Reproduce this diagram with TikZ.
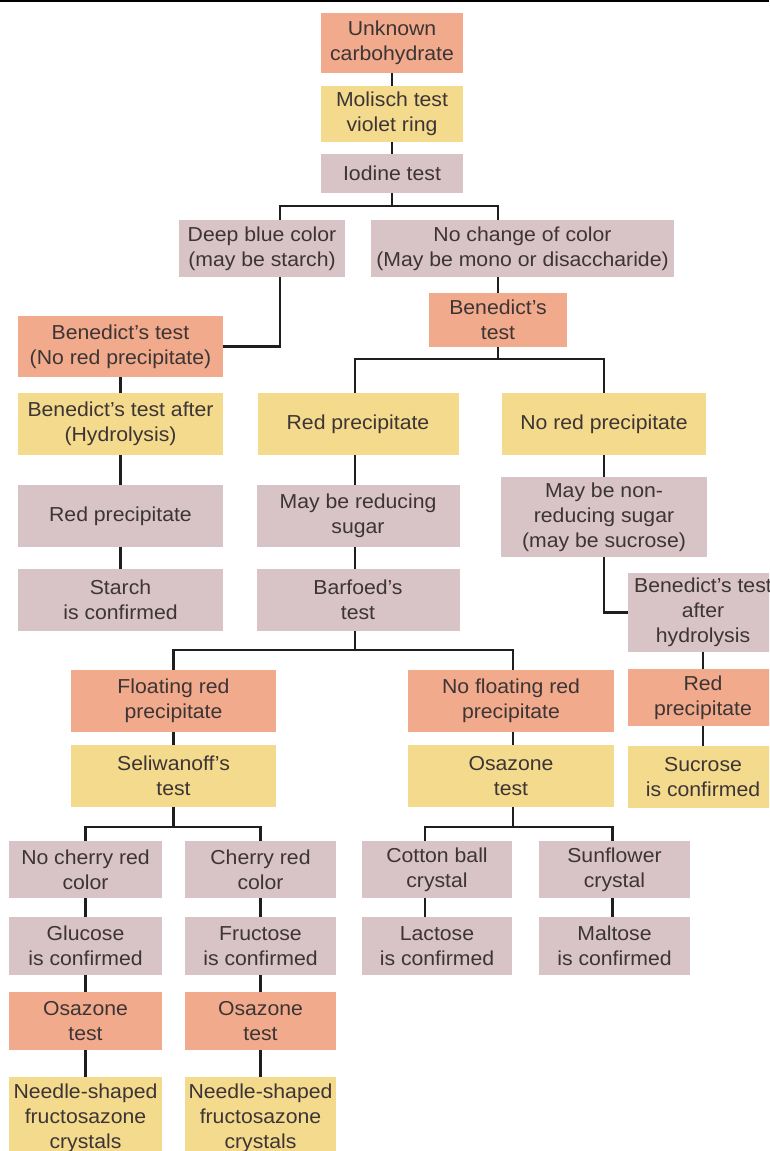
\documentclass[tikz,border=0pt]{standalone}
\usepackage{fontspec}
\setmainfont{Liberation Sans}[FakeStretch=1.05]
\definecolor{sal}{HTML}{F1AA8C}
\definecolor{yel}{HTML}{F4DA8C}
\definecolor{mau}{HTML}{D8C3C6}
\definecolor{txt}{HTML}{3D3535}
\definecolor{lnc}{HTML}{1E1E1E}
\tikzset{
  bx/.style={inner sep=0pt, align=center, text=txt, font=\fontsize{20.2}{25}\selectfont},
  salb/.style={bx, fill=sal},
  yelb/.style={bx, fill=yel},
  maub/.style={bx, fill=mau},
  ln/.style={draw=lnc, line width=2.4pt},
}
\begin{document}
\begin{tikzpicture}[x=1pt,y=-1pt]
\useasboundingbox (0,0) rectangle (769,1151);
\clip (0,0) rectangle (769,1151);
\fill[white] (0,0) rectangle (769,1151);
\coordinate (tl) at (0,1);
\coordinate (tr) at (769,1);
\draw[draw=black, line width=2pt] (tl) -- (tr);

% top column
\node[salb, minimum width=142, minimum height=60] (uc) at (392,43) {Unknown\\carbohydrate};
\node[yelb, minimum width=142, minimum height=56] (mol) at (392,114) {Molisch test\\violet ring};
\node[maub, minimum width=142, minimum height=39] (iod) at (392,173.5) {Iodine test};

\node[maub, minimum width=166, minimum height=57] (deep) at (262,248.5) {Deep blue color\\(may be starch)};
\node[maub, minimum width=303, minimum height=57] (noch) at (522.5,248.5) {No change of color\\(May be mono or disaccharide)};
\node[salb, minimum width=138, minimum height=54] (ben) at (498,320) {Benedict's\\test};

% left column
\node[salb, minimum width=205, minimum height=61] (benl) at (120.5,346.5) {Benedict's test\\(No red precipitate)};
\node[yelb, minimum width=205, minimum height=62] (benh) at (120.5,424) {Benedict's test after\\(Hydrolysis)};
\node[maub, minimum width=205, minimum height=62] (redl) at (120.5,516) {Red precipitate};
\node[maub, minimum width=205, minimum height=62] (starch) at (120.5,600) {Starch\\is confirmed};

% middle column
\node[yelb, minimum width=201, minimum height=62] (redm) at (358,424) {Red precipitate};
\node[maub, minimum width=203, minimum height=62] (reduc) at (358,516) {May be reducing\\sugar};
\node[maub, minimum width=203, minimum height=62] (barf) at (358,600) {Barfoed's\\test};

% right column
\node[yelb, minimum width=204, minimum height=62] (nored) at (604,424) {No red precipitate};
\node[maub, minimum width=206, minimum height=80] (nonred) at (604,517) {May be non-\\reducing sugar\\(may be sucrose)};
\node[maub, minimum width=150, minimum height=79] (benah) at (703,612.5) {Benedict's test\\after\\hydrolysis};
\node[salb, minimum width=150, minimum height=57] (redr) at (703,697.5) {Red\\precipitate};
\node[yelb, minimum width=150, minimum height=62] (sucr) at (703,777) {Sucrose\\is confirmed};

% Barfoed branches
\node[salb, minimum width=205, minimum height=62] (float) at (173.5,701) {Floating red\\precipitate};
\node[salb, minimum width=206, minimum height=62] (nofloat) at (511,701) {No floating red\\precipitate};
\node[yelb, minimum width=205, minimum height=62] (seli) at (173.5,776) {Seliwanoff's\\test};
\node[yelb, minimum width=206, minimum height=62] (osaz) at (511,776) {Osazone\\test};

% bottom rows
\node[maub, minimum width=153, minimum height=57] (nocher) at (85.5,869.5) {No cherry red\\color};
\node[maub, minimum width=151, minimum height=57] (cher) at (260.5,869.5) {Cherry red\\color};
\node[maub, minimum width=150, minimum height=57] (cott) at (437,869.5) {Cotton ball\\crystal};
\node[maub, minimum width=151, minimum height=57] (sunf) at (614.5,869.5) {Sunflower\\crystal};

\node[maub, minimum width=153, minimum height=58] (gluc) at (85.5,946) {Glucose\\is confirmed};
\node[maub, minimum width=151, minimum height=58] (fruc) at (260.5,946) {Fructose\\is confirmed};
\node[maub, minimum width=150, minimum height=58] (lact) at (437,946) {Lactose\\is confirmed};
\node[maub, minimum width=151, minimum height=58] (malt) at (614.5,946) {Maltose\\is confirmed};

\node[salb, minimum width=153, minimum height=58] (osl) at (85.5,1021) {Osazone\\test};
\node[salb, minimum width=151, minimum height=58] (osm) at (260.5,1021) {Osazone\\test};

\node[yelb, minimum width=153, minimum height=82] (ndl1) at (85.5,1118) {Needle-shaped\\fructosazone\\crystals};
\node[yelb, minimum width=151, minimum height=82] (ndl2) at (260.5,1118) {Needle-shaped\\fructosazone\\crystals};

% junctions
\coordinate (j1) at (392,206);
\coordinate (j2) at (498,359);
\coordinate (j3) at (358,650);
\coordinate (j4) at (173.5,827);
\coordinate (j5) at (511,827);

% connectors
\draw[ln] (uc) -- (mol);
\draw[ln] (mol) -- (iod);
\draw[ln] (iod.south) -- (j1);
\draw[ln] (j1) -| ([xshift=18]deep.north);
\draw[ln] (j1) -| ([xshift=-24.5]noch.north);
\draw[ln] ([xshift=18]deep.south) |- (benl.east);
\draw[ln] (noch.south -| ben.north) -- (ben.north);
\draw[ln] (ben.south) -- (j2);
\draw[ln] (j2) -| ([xshift=-3]redm.north);
\draw[ln] (j2) -| (nored.north);
\draw[ln] (benl) -- (benh);
\draw[ln] (benh) -- (redl);
\draw[ln] (redl) -- (starch);
\draw[ln] ([xshift=-3]redm.south) -- ([xshift=-3]reduc.north);
\draw[ln] ([xshift=-3]reduc.south) -- ([xshift=-3]barf.north);
\draw[ln] (nored) -- (nonred);
\draw[ln] (nonred.south) |- (benah.west);
\draw[ln] (benah) -- (redr);
\draw[ln] (redr) -- (sucr);
\draw[ln] ([xshift=-3]barf.south) -- ([xshift=-3]j3);
\draw[ln] (j3) -| (float.north);
\draw[ln] (j3) -| ([xshift=2]nofloat.north);
\draw[ln] (float) -- (seli);
\draw[ln] ([xshift=2]nofloat.south) -- ([xshift=2]osaz.north);
\draw[ln] (seli.south) -- (j4);
\draw[ln] (j4) -| (nocher.north);
\draw[ln] (j4) -| (cher.north);
\draw[ln] ([xshift=2]osaz.south) -- ([xshift=2]j5);
\draw[ln] (j5) -| ([xshift=-12]cott.north);
\draw[ln] (j5) -| ([xshift=-2]sunf.north);
\draw[ln] (nocher) -- (gluc);
\draw[ln] (cher) -- (fruc);
\draw[ln] ([xshift=-12]cott.south) -- ([xshift=-12]lact.north);
\draw[ln] ([xshift=-2]sunf.south) -- ([xshift=-2]malt.north);
\draw[ln] (gluc) -- (osl);
\draw[ln] (fruc) -- (osm);
\draw[ln] (osl) -- (ndl1);
\draw[ln] (osm) -- (ndl2);
\end{tikzpicture}
\end{document}
